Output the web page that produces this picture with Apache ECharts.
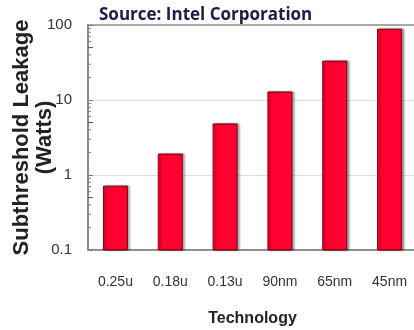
<!DOCTYPE html>
<html>
<head>
<meta charset="utf-8">
<script src="https://cdn.jsdelivr.net/npm/echarts@6/dist/echarts.min.js"></script>
<style>
  html, body { margin: 0; padding: 0; background: #fff; }
  #chart { width: 414px; height: 330px; }
</style>
</head>
<body>
<div id="chart"></div>
<script>
// Process nodes and their subthreshold leakage (W), log scale
const technologies = ['0.25u', '0.18u', '0.13u', '90nm', '65nm', '45nm'];
const leakageWatts = [0.71, 1.9, 4.8, 12.8, 33, 88];
const yTickLabels = ['0.1', '1', '10', '100'];
// Minor tick values inside each decade (2..9 of each power of ten)
const minorTickValues = [
  0.2, 0.3, 0.4, 0.5, 0.6, 0.7, 0.8, 0.9,
  2, 3, 4, 5, 6, 7, 8, 9,
  20, 30, 40, 50, 60, 70, 80, 90
];
const axisFloor = 0.1;

const chart = echarts.init(document.getElementById('chart'), null, { renderer: 'canvas' });

const labelFont = '"Liberation Sans", Arial, sans-serif';

chart.setOption({
  animation: false,
  title: {
    text: 'Source: Intel Corporation',
    left: 94,
    top: 2,
    textStyle: {
      fontFamily: '"Open Sans", sans-serif',
      fontWeight: 'bold',
      fontSize: 17,
      color: '#1c1c48'
    }
  },
  grid: {
    left: 88,
    top: 25,
    width: 329,
    bottom: 80,
    outerBoundsMode: 'none',
    containLabel: false,
    show: true,
    borderColor: '#8c8c8c',
    borderWidth: 1.5,
    backgroundColor: 'transparent'
  },
  xAxis: {
    type: 'category',
    data: technologies,
    name: 'Technology',
    nameLocation: 'middle',
    nameGap: 61,
    nameMoveOverlap: false,
    nameTextStyle: {
      fontFamily: labelFont,
      fontWeight: 'bold',
      fontSize: 16,
      color: '#222'
    },
    axisLine: { lineStyle: { color: '#808080', width: 1.5 } },
    axisTick: { inside: true, length: 5, lineStyle: { color: '#808080' } },
    axisLabel: {
      margin: 25,
      fontFamily: labelFont,
      fontSize: 14,
      color: '#333'
    }
  },
  yAxis: {
    type: 'log',
    logBase: 10,
    min: 0.1,
    max: 100,
    name: 'Subthreshold Leakage\n(Watts)',
    nameLocation: 'middle',
    nameGap: 32,
    nameMoveOverlap: false,
    nameTextStyle: {
      fontFamily: labelFont,
      fontWeight: 'bold',
      fontSize: 22,
      lineHeight: 23,
      color: '#222'
    },
    axisLine: { show: true, lineStyle: { color: '#808080', width: 1.5 } },
    axisTick: { show: true, inside: true, length: 5, lineStyle: { color: '#808080' } },
    axisLabel: {
      margin: 16,
      fontFamily: labelFont,
      fontSize: 15,
      color: '#333',
      formatter: function (v) {
        const s = String(+v.toPrecision(3));
        return yTickLabels.indexOf(s) >= 0 ? s : '';
      }
    },
    splitLine: {
      show: true,
      showMaxLine: false,
      lineStyle: { color: '#dcdcdc', width: 1 }
    }
  },
  series: [
    {
      // bars rising from the bottom of the log axis
      type: 'custom',
      data: leakageWatts.map(function (v, i) { return [i, v]; }),
      encode: { x: 0, y: 1 },
      renderItem: function (params, api) {
        const top = api.coord([api.value(0), api.value(1)]);
        const base = api.coord([api.value(0), axisFloor]);
        const w = 24;
        return {
          type: 'rect',
          shape: { x: top[0] - w / 2, y: top[1], width: w, height: base[1] - top[1] },
          style: {
            fill: '#ff0030',
            stroke: '#7a0012',
            lineWidth: 1,
            shadowColor: 'rgba(0,0,0,0.35)',
            shadowOffsetX: 2,
            shadowBlur: 2
          }
        };
      }
    },
    {
      // minor ticks along the log axis
      type: 'custom',
      silent: true,
      data: minorTickValues.map(function (v) { return [0, v]; }),
      encode: { x: 0, y: 1 },
      renderItem: function (params, api) {
        const pt = api.coord([0, api.value(1)]);
        const x0 = params.coordSys.x;
        const v = api.value(1);
        const major = Math.abs(v / Math.pow(10, Math.floor(Math.log10(v) + 1e-9)) - 5) < 1e-6;
        return {
          type: 'line',
          shape: { x1: x0, y1: pt[1], x2: x0 + (major ? 5 : 3), y2: pt[1] },
          style: { stroke: major ? '#555' : '#808080', lineWidth: 1 }
        };
      }
    }
  ]
});
</script>
</body>
</html>
